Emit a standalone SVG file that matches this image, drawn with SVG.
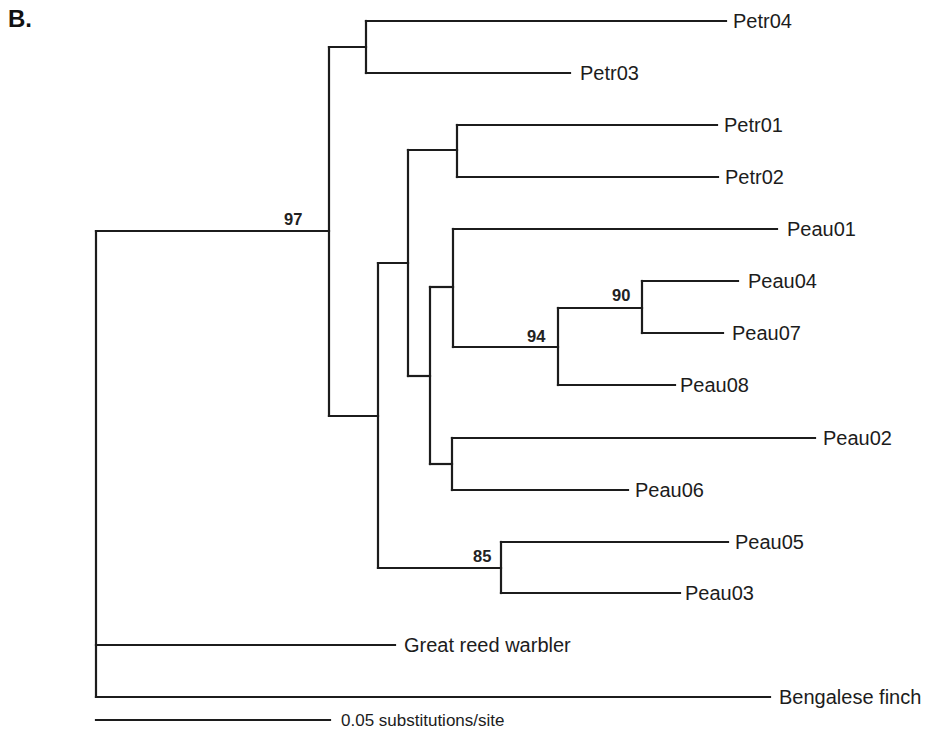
<svg xmlns="http://www.w3.org/2000/svg" width="925" height="733" viewBox="0 0 925 733">
<style>
.e{fill:none;stroke:#1c1c1c;stroke-width:2.2;stroke-linecap:square}
.t{font-family:"Liberation Sans",Arial,sans-serif;font-size:20px;fill:#1c1c1c}
.b{font-family:"Liberation Sans",Arial,sans-serif;font-size:16.5px;font-weight:bold;fill:#222}
.s{font-family:"Liberation Sans",Arial,sans-serif;font-size:17px;fill:#1c1c1c}
</style>
<rect width="925" height="733" fill="#ffffff"/>
<text x="8" y="27" font-family="Liberation Sans,Arial,sans-serif" font-size="24" font-weight="bold" fill="#111">B.</text>
<g id="connectors">
<path class="e" d="M96 231 V697"/>
<path class="e" d="M96 231 H329"/>
<path class="e" d="M96 645 H395"/>
<path class="e" d="M96 697 H770"/>
<path class="e" d="M329 47 V416"/>
<path class="e" d="M329 47 H366"/>
<path class="e" d="M329 416 H378"/>
<path class="e" d="M366 21 V73"/>
<path class="e" d="M366 21 H726"/>
<path class="e" d="M366 73 H570"/>
<path class="e" d="M378 263 V568"/>
<path class="e" d="M378 263 H408"/>
<path class="e" d="M378 568 H501"/>
<path class="e" d="M408 150 V376"/>
<path class="e" d="M408 150 H457"/>
<path class="e" d="M408 376 H430"/>
<path class="e" d="M457 125 V177"/>
<path class="e" d="M457 125 H717"/>
<path class="e" d="M457 177 H718"/>
<path class="e" d="M430 287 V464"/>
<path class="e" d="M430 287 H453"/>
<path class="e" d="M430 464 H452"/>
<path class="e" d="M453 229 V347"/>
<path class="e" d="M453 229 H777"/>
<path class="e" d="M453 347 H558"/>
<path class="e" d="M558 308 V385"/>
<path class="e" d="M558 308 H642"/>
<path class="e" d="M558 385 H675"/>
<path class="e" d="M642 281 V333"/>
<path class="e" d="M642 281 H738"/>
<path class="e" d="M642 333 H723"/>
<path class="e" d="M452 438 V490"/>
<path class="e" d="M452 438 H815"/>
<path class="e" d="M452 490 H628"/>
<path class="e" d="M501 542 V593"/>
<path class="e" d="M501 542 H728"/>
<path class="e" d="M501 593 H680"/>
<path class="e" d="M96 720 H330"/>
</g>
<g id="leaf-Petr04"><text class="t" x="733" y="28">Petr04</text></g>
<g id="leaf-Petr03"><text class="t" x="580" y="80">Petr03</text></g>
<g id="leaf-Petr01"><text class="t" x="724" y="132">Petr01</text></g>
<g id="leaf-Petr02"><text class="t" x="725" y="184">Petr02</text></g>
<g id="leaf-Peau01"><text class="t" x="787" y="236">Peau01</text></g>
<g id="leaf-Peau04"><text class="t" x="748" y="288">Peau04</text></g>
<g id="leaf-Peau07"><text class="t" x="732" y="340">Peau07</text></g>
<g id="leaf-Peau08"><text class="t" x="680" y="392">Peau08</text></g>
<g id="leaf-Peau02"><text class="t" x="823" y="445">Peau02</text></g>
<g id="leaf-Peau06"><text class="t" x="635" y="497">Peau06</text></g>
<g id="leaf-Peau05"><text class="t" x="735" y="549">Peau05</text></g>
<g id="leaf-Peau03"><text class="t" x="685" y="600">Peau03</text></g>
<g id="leaf-GreatReedWarbler"><text class="t" x="404" y="652">Great reed warbler</text></g>
<g id="leaf-BengaleseFinch"><text class="t" x="779" y="704">Bengalese finch</text></g>
<g id="support-97"><text class="b" x="284" y="225">97</text></g>
<g id="support-94"><text class="b" x="527" y="342">94</text></g>
<g id="support-90"><text class="b" x="612" y="301">90</text></g>
<g id="support-85"><text class="b" x="473" y="562">85</text></g>
<g id="scale-bar"><text class="s" x="341" y="726">0.05 substitutions/site</text></g>
</svg>
